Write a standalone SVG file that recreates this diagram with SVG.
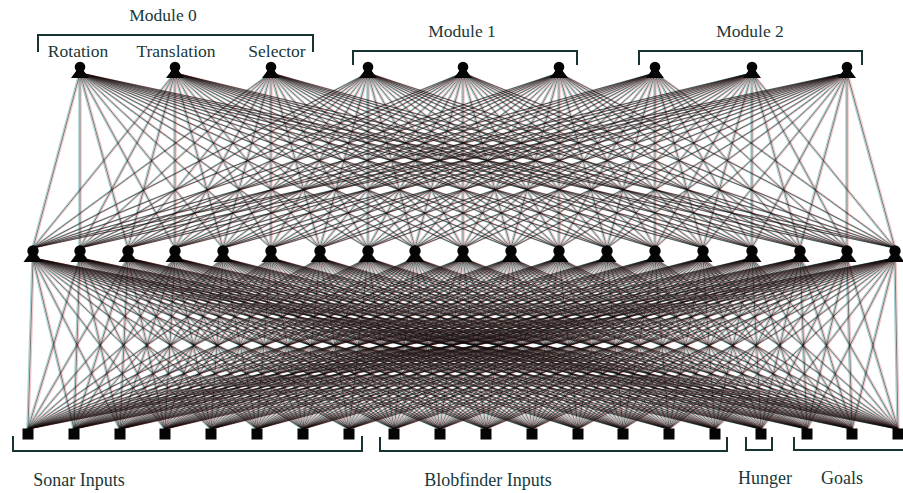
<svg xmlns="http://www.w3.org/2000/svg" width="903" height="493" viewBox="0 0 903 493">
<style>
.net path{fill:none}
.ck{stroke:#000000;stroke-width:0.6;opacity:0.9}
.ct{stroke:#138585;stroke-width:0.55;opacity:0.75}
.cr{stroke:#e03030;stroke-width:0.5;opacity:0.6}
.node{fill:#050505}
.br{fill:none;stroke:#173333;stroke-width:2}
.lbl{font-family:"Liberation Serif","Times New Roman",serif;font-size:17.5px;fill:#183838;text-anchor:middle}
</style>
<defs>
<g id="pawn"><circle cx="0" cy="0" r="5.3"/><path d="M-3.5 3.5h7l5.5 7.5h-18z"/></g>
<g id="pawn2"><circle cx="0" cy="0" r="5.7"/><path d="M-4 3.5h8l5.5 7.5h-19z"/></g>
<g id="net" class="net">
<path d="M80 73L33 248M80 73L80 248M80 73L128 248M80 73L175 248M80 73L223 248M80 73L271 248M80 73L320 248M80 73L368 248M80 73L415 248M80 73L463 248M80 73L511 248M80 73L559 248M80 73L607 248M80 73L655 248M80 73L703 248M80 73L752 248M80 73L800 248M80 73L847 248M80 73L895 248"/>
<path d="M175 73L33 248M175 73L80 248M175 73L128 248M175 73L175 248M175 73L223 248M175 73L271 248M175 73L320 248M175 73L368 248M175 73L415 248M175 73L463 248M175 73L511 248M175 73L559 248M175 73L607 248M175 73L655 248M175 73L703 248M175 73L752 248M175 73L800 248M175 73L847 248M175 73L895 248"/>
<path d="M271 73L33 248M271 73L80 248M271 73L128 248M271 73L175 248M271 73L223 248M271 73L271 248M271 73L320 248M271 73L368 248M271 73L415 248M271 73L463 248M271 73L511 248M271 73L559 248M271 73L607 248M271 73L655 248M271 73L703 248M271 73L752 248M271 73L800 248M271 73L847 248M271 73L895 248"/>
<path d="M368 73L33 248M368 73L80 248M368 73L128 248M368 73L175 248M368 73L223 248M368 73L271 248M368 73L320 248M368 73L368 248M368 73L415 248M368 73L463 248M368 73L511 248M368 73L559 248M368 73L607 248M368 73L655 248M368 73L703 248M368 73L752 248M368 73L800 248M368 73L847 248M368 73L895 248"/>
<path d="M463 73L33 248M463 73L80 248M463 73L128 248M463 73L175 248M463 73L223 248M463 73L271 248M463 73L320 248M463 73L368 248M463 73L415 248M463 73L463 248M463 73L511 248M463 73L559 248M463 73L607 248M463 73L655 248M463 73L703 248M463 73L752 248M463 73L800 248M463 73L847 248M463 73L895 248"/>
<path d="M559 73L33 248M559 73L80 248M559 73L128 248M559 73L175 248M559 73L223 248M559 73L271 248M559 73L320 248M559 73L368 248M559 73L415 248M559 73L463 248M559 73L511 248M559 73L559 248M559 73L607 248M559 73L655 248M559 73L703 248M559 73L752 248M559 73L800 248M559 73L847 248M559 73L895 248"/>
<path d="M655 73L33 248M655 73L80 248M655 73L128 248M655 73L175 248M655 73L223 248M655 73L271 248M655 73L320 248M655 73L368 248M655 73L415 248M655 73L463 248M655 73L511 248M655 73L559 248M655 73L607 248M655 73L655 248M655 73L703 248M655 73L752 248M655 73L800 248M655 73L847 248M655 73L895 248"/>
<path d="M752 73L33 248M752 73L80 248M752 73L128 248M752 73L175 248M752 73L223 248M752 73L271 248M752 73L320 248M752 73L368 248M752 73L415 248M752 73L463 248M752 73L511 248M752 73L559 248M752 73L607 248M752 73L655 248M752 73L703 248M752 73L752 248M752 73L800 248M752 73L847 248M752 73L895 248"/>
<path d="M847 73L33 248M847 73L80 248M847 73L128 248M847 73L175 248M847 73L223 248M847 73L271 248M847 73L320 248M847 73L368 248M847 73L415 248M847 73L463 248M847 73L511 248M847 73L559 248M847 73L607 248M847 73L655 248M847 73L703 248M847 73L752 248M847 73L800 248M847 73L847 248M847 73L895 248"/>
<path d="M33 258L28 429M33 258L74 429M33 258L120 429M33 258L165 429M33 258L211 429M33 258L257 429M33 258L303 429M33 258L349 429M33 258L394 429M33 258L440 429M33 258L486 429M33 258L532 429M33 258L578 429M33 258L623 429M33 258L669 429M33 258L715 429M33 258L761 429M33 258L807 429M33 258L852 429M33 258L898 429"/>
<path d="M80 258L28 429M80 258L74 429M80 258L120 429M80 258L165 429M80 258L211 429M80 258L257 429M80 258L303 429M80 258L349 429M80 258L394 429M80 258L440 429M80 258L486 429M80 258L532 429M80 258L578 429M80 258L623 429M80 258L669 429M80 258L715 429M80 258L761 429M80 258L807 429M80 258L852 429M80 258L898 429"/>
<path d="M128 258L28 429M128 258L74 429M128 258L120 429M128 258L165 429M128 258L211 429M128 258L257 429M128 258L303 429M128 258L349 429M128 258L394 429M128 258L440 429M128 258L486 429M128 258L532 429M128 258L578 429M128 258L623 429M128 258L669 429M128 258L715 429M128 258L761 429M128 258L807 429M128 258L852 429M128 258L898 429"/>
<path d="M175 258L28 429M175 258L74 429M175 258L120 429M175 258L165 429M175 258L211 429M175 258L257 429M175 258L303 429M175 258L349 429M175 258L394 429M175 258L440 429M175 258L486 429M175 258L532 429M175 258L578 429M175 258L623 429M175 258L669 429M175 258L715 429M175 258L761 429M175 258L807 429M175 258L852 429M175 258L898 429"/>
<path d="M223 258L28 429M223 258L74 429M223 258L120 429M223 258L165 429M223 258L211 429M223 258L257 429M223 258L303 429M223 258L349 429M223 258L394 429M223 258L440 429M223 258L486 429M223 258L532 429M223 258L578 429M223 258L623 429M223 258L669 429M223 258L715 429M223 258L761 429M223 258L807 429M223 258L852 429M223 258L898 429"/>
<path d="M271 258L28 429M271 258L74 429M271 258L120 429M271 258L165 429M271 258L211 429M271 258L257 429M271 258L303 429M271 258L349 429M271 258L394 429M271 258L440 429M271 258L486 429M271 258L532 429M271 258L578 429M271 258L623 429M271 258L669 429M271 258L715 429M271 258L761 429M271 258L807 429M271 258L852 429M271 258L898 429"/>
<path d="M320 258L28 429M320 258L74 429M320 258L120 429M320 258L165 429M320 258L211 429M320 258L257 429M320 258L303 429M320 258L349 429M320 258L394 429M320 258L440 429M320 258L486 429M320 258L532 429M320 258L578 429M320 258L623 429M320 258L669 429M320 258L715 429M320 258L761 429M320 258L807 429M320 258L852 429M320 258L898 429"/>
<path d="M368 258L28 429M368 258L74 429M368 258L120 429M368 258L165 429M368 258L211 429M368 258L257 429M368 258L303 429M368 258L349 429M368 258L394 429M368 258L440 429M368 258L486 429M368 258L532 429M368 258L578 429M368 258L623 429M368 258L669 429M368 258L715 429M368 258L761 429M368 258L807 429M368 258L852 429M368 258L898 429"/>
<path d="M415 258L28 429M415 258L74 429M415 258L120 429M415 258L165 429M415 258L211 429M415 258L257 429M415 258L303 429M415 258L349 429M415 258L394 429M415 258L440 429M415 258L486 429M415 258L532 429M415 258L578 429M415 258L623 429M415 258L669 429M415 258L715 429M415 258L761 429M415 258L807 429M415 258L852 429M415 258L898 429"/>
<path d="M463 258L28 429M463 258L74 429M463 258L120 429M463 258L165 429M463 258L211 429M463 258L257 429M463 258L303 429M463 258L349 429M463 258L394 429M463 258L440 429M463 258L486 429M463 258L532 429M463 258L578 429M463 258L623 429M463 258L669 429M463 258L715 429M463 258L761 429M463 258L807 429M463 258L852 429M463 258L898 429"/>
<path d="M511 258L28 429M511 258L74 429M511 258L120 429M511 258L165 429M511 258L211 429M511 258L257 429M511 258L303 429M511 258L349 429M511 258L394 429M511 258L440 429M511 258L486 429M511 258L532 429M511 258L578 429M511 258L623 429M511 258L669 429M511 258L715 429M511 258L761 429M511 258L807 429M511 258L852 429M511 258L898 429"/>
<path d="M559 258L28 429M559 258L74 429M559 258L120 429M559 258L165 429M559 258L211 429M559 258L257 429M559 258L303 429M559 258L349 429M559 258L394 429M559 258L440 429M559 258L486 429M559 258L532 429M559 258L578 429M559 258L623 429M559 258L669 429M559 258L715 429M559 258L761 429M559 258L807 429M559 258L852 429M559 258L898 429"/>
<path d="M607 258L28 429M607 258L74 429M607 258L120 429M607 258L165 429M607 258L211 429M607 258L257 429M607 258L303 429M607 258L349 429M607 258L394 429M607 258L440 429M607 258L486 429M607 258L532 429M607 258L578 429M607 258L623 429M607 258L669 429M607 258L715 429M607 258L761 429M607 258L807 429M607 258L852 429M607 258L898 429"/>
<path d="M655 258L28 429M655 258L74 429M655 258L120 429M655 258L165 429M655 258L211 429M655 258L257 429M655 258L303 429M655 258L349 429M655 258L394 429M655 258L440 429M655 258L486 429M655 258L532 429M655 258L578 429M655 258L623 429M655 258L669 429M655 258L715 429M655 258L761 429M655 258L807 429M655 258L852 429M655 258L898 429"/>
<path d="M703 258L28 429M703 258L74 429M703 258L120 429M703 258L165 429M703 258L211 429M703 258L257 429M703 258L303 429M703 258L349 429M703 258L394 429M703 258L440 429M703 258L486 429M703 258L532 429M703 258L578 429M703 258L623 429M703 258L669 429M703 258L715 429M703 258L761 429M703 258L807 429M703 258L852 429M703 258L898 429"/>
<path d="M752 258L28 429M752 258L74 429M752 258L120 429M752 258L165 429M752 258L211 429M752 258L257 429M752 258L303 429M752 258L349 429M752 258L394 429M752 258L440 429M752 258L486 429M752 258L532 429M752 258L578 429M752 258L623 429M752 258L669 429M752 258L715 429M752 258L761 429M752 258L807 429M752 258L852 429M752 258L898 429"/>
<path d="M800 258L28 429M800 258L74 429M800 258L120 429M800 258L165 429M800 258L211 429M800 258L257 429M800 258L303 429M800 258L349 429M800 258L394 429M800 258L440 429M800 258L486 429M800 258L532 429M800 258L578 429M800 258L623 429M800 258L669 429M800 258L715 429M800 258L761 429M800 258L807 429M800 258L852 429M800 258L898 429"/>
<path d="M847 258L28 429M847 258L74 429M847 258L120 429M847 258L165 429M847 258L211 429M847 258L257 429M847 258L303 429M847 258L349 429M847 258L394 429M847 258L440 429M847 258L486 429M847 258L532 429M847 258L578 429M847 258L623 429M847 258L669 429M847 258L715 429M847 258L761 429M847 258L807 429M847 258L852 429M847 258L898 429"/>
<path d="M895 258L28 429M895 258L74 429M895 258L120 429M895 258L165 429M895 258L211 429M895 258L257 429M895 258L303 429M895 258L349 429M895 258L394 429M895 258L440 429M895 258L486 429M895 258L532 429M895 258L578 429M895 258L623 429M895 258L669 429M895 258L715 429M895 258L761 429M895 258L807 429M895 258L852 429M895 258L898 429"/>
</g>
</defs>
<rect width="903" height="493" fill="#ffffff"/>
<g id="connectors">
<use href="#net" class="ct" transform="translate(-1.2 0)"/>
<use href="#net" class="cr" transform="translate(1.2 0)"/>
<use href="#net" class="ck"/>
</g>
<g id="brackets">
<path class="br" d="M38 52V35H313V52"/>
<path class="br" d="M353 65V51H577V65"/>
<path class="br" d="M639 65V51H862V65"/>
<path class="br" d="M13 436V451H362V436"/>
<path class="br" d="M380 437V451H727V437"/>
<path class="br" d="M746 437V450H772V437"/>
<path class="br" d="M794 437V450H905"/>
</g>
<g id="labels">
<text class="lbl" x="163" y="21">Module 0</text>
<text class="lbl" x="78" y="57">Rotation</text>
<text class="lbl" x="176" y="57">Translation</text>
<text class="lbl" x="277" y="57">Selector</text>
<text class="lbl" x="462" y="37">Module 1</text>
<text class="lbl" x="750" y="37">Module 2</text>
<text class="lbl" x="79" y="486" style="font-size:18px">Sonar Inputs</text>
<text class="lbl" x="488" y="486" style="font-size:18px">Blobfinder Inputs</text>
<text class="lbl" x="765" y="484" style="font-size:18px">Hunger</text>
<text class="lbl" x="842" y="484" style="font-size:18px">Goals</text>
</g>
<g id="output-nodes" class="node">
<g id="t0" transform="translate(80 67)"><use href="#pawn"/></g>
<g id="t1" transform="translate(175 67)"><use href="#pawn"/></g>
<g id="t2" transform="translate(271 67)"><use href="#pawn"/></g>
<g id="t3" transform="translate(368 67)"><use href="#pawn"/></g>
<g id="t4" transform="translate(463 67)"><use href="#pawn"/></g>
<g id="t5" transform="translate(559 67)"><use href="#pawn"/></g>
<g id="t6" transform="translate(655 67)"><use href="#pawn"/></g>
<g id="t7" transform="translate(752 67)"><use href="#pawn"/></g>
<g id="t8" transform="translate(847 67)"><use href="#pawn"/></g>
</g>
<g id="hidden-nodes" class="node">
<g id="h0" transform="translate(33 251)"><use href="#pawn2"/></g>
<g id="h1" transform="translate(80 251)"><use href="#pawn2"/></g>
<g id="h2" transform="translate(128 251)"><use href="#pawn2"/></g>
<g id="h3" transform="translate(175 251)"><use href="#pawn2"/></g>
<g id="h4" transform="translate(223 251)"><use href="#pawn2"/></g>
<g id="h5" transform="translate(271 251)"><use href="#pawn2"/></g>
<g id="h6" transform="translate(320 251)"><use href="#pawn2"/></g>
<g id="h7" transform="translate(368 251)"><use href="#pawn2"/></g>
<g id="h8" transform="translate(415 251)"><use href="#pawn2"/></g>
<g id="h9" transform="translate(463 251)"><use href="#pawn2"/></g>
<g id="h10" transform="translate(511 251)"><use href="#pawn2"/></g>
<g id="h11" transform="translate(559 251)"><use href="#pawn2"/></g>
<g id="h12" transform="translate(607 251)"><use href="#pawn2"/></g>
<g id="h13" transform="translate(655 251)"><use href="#pawn2"/></g>
<g id="h14" transform="translate(703 251)"><use href="#pawn2"/></g>
<g id="h15" transform="translate(752 251)"><use href="#pawn2"/></g>
<g id="h16" transform="translate(800 251)"><use href="#pawn2"/></g>
<g id="h17" transform="translate(847 251)"><use href="#pawn2"/></g>
<g id="h18" transform="translate(895 251)"><use href="#pawn2"/></g>
</g>
<g id="input-nodes" class="node">
<g id="i0" transform="translate(28 434)"><rect x="-5.5" y="-5.5" width="11" height="11"/></g>
<g id="i1" transform="translate(74 434)"><rect x="-5.5" y="-5.5" width="11" height="11"/></g>
<g id="i2" transform="translate(120 434)"><rect x="-5.5" y="-5.5" width="11" height="11"/></g>
<g id="i3" transform="translate(165 434)"><rect x="-5.5" y="-5.5" width="11" height="11"/></g>
<g id="i4" transform="translate(211 434)"><rect x="-5.5" y="-5.5" width="11" height="11"/></g>
<g id="i5" transform="translate(257 434)"><rect x="-5.5" y="-5.5" width="11" height="11"/></g>
<g id="i6" transform="translate(303 434)"><rect x="-5.5" y="-5.5" width="11" height="11"/></g>
<g id="i7" transform="translate(349 434)"><rect x="-5.5" y="-5.5" width="11" height="11"/></g>
<g id="i8" transform="translate(394 434)"><rect x="-5.5" y="-5.5" width="11" height="11"/></g>
<g id="i9" transform="translate(440 434)"><rect x="-5.5" y="-5.5" width="11" height="11"/></g>
<g id="i10" transform="translate(486 434)"><rect x="-5.5" y="-5.5" width="11" height="11"/></g>
<g id="i11" transform="translate(532 434)"><rect x="-5.5" y="-5.5" width="11" height="11"/></g>
<g id="i12" transform="translate(578 434)"><rect x="-5.5" y="-5.5" width="11" height="11"/></g>
<g id="i13" transform="translate(623 434)"><rect x="-5.5" y="-5.5" width="11" height="11"/></g>
<g id="i14" transform="translate(669 434)"><rect x="-5.5" y="-5.5" width="11" height="11"/></g>
<g id="i15" transform="translate(715 434)"><rect x="-5.5" y="-5.5" width="11" height="11"/></g>
<g id="i16" transform="translate(761 434)"><rect x="-5.5" y="-5.5" width="11" height="11"/></g>
<g id="i17" transform="translate(807 434)"><rect x="-5.5" y="-5.5" width="11" height="11"/></g>
<g id="i18" transform="translate(852 434)"><rect x="-5.5" y="-5.5" width="11" height="11"/></g>
<g id="i19" transform="translate(898 434)"><rect x="-5.5" y="-5.5" width="11" height="11"/></g>
</g>
</svg>
